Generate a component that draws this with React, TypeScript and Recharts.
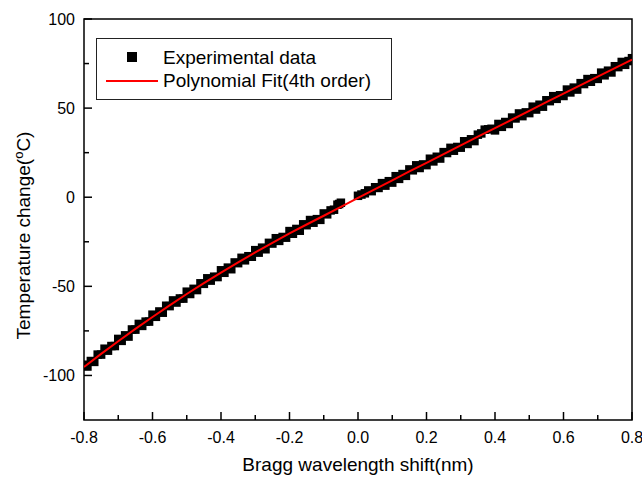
import React from 'react';
import { ComposedChart, XAxis, YAxis, Scatter, ReferenceArea, Legend } from 'recharts';

const FONT = '"Liberation Sans", Arial, Helvetica, sans-serif';

const SERIES_EXP = 'Experimental data';
const SERIES_FIT = 'Polynomial Fit(4th order)';
const X_LABEL = 'Bragg wavelength shift(nm)';
const Y_LABEL_MAIN = 'Temperature change(';
const Y_LABEL_SUP = 'o';
const Y_LABEL_END = 'C)';

const xMajorTicks = [-0.8, -0.6, -0.4, -0.2, 0, 0.2, 0.4, 0.6, 0.8];
const xMinorTicks = [-0.7, -0.5, -0.3, -0.1, 0.1, 0.3, 0.5, 0.7];
const yMajorTicks = [-100, -50, 0, 50, 100];
const yMinorTicks = [-75, -25, 25, 75];
const xDomain: [number, number] = [-0.8, 0.8];
const yDomain: [number, number] = [-125, 100];

// experimental data, below the gap near zero
const experimentalNegative: [number, number][] = [
  [-0.80, -94.0], [-0.79, -95.0], [-0.78, -91.9], [-0.77, -92.4], [-0.76, -88.3],
  [-0.75, -88.3], [-0.74, -85.0], [-0.73, -86.1], [-0.72, -83.5], [-0.71, -83.5],
  [-0.70, -79.5], [-0.69, -80.6], [-0.68, -77.5], [-0.67, -78.2], [-0.66, -74.2],
  [-0.65, -74.3], [-0.64, -71.1], [-0.63, -72.2], [-0.62, -69.8], [-0.61, -69.8],
  [-0.60, -65.9], [-0.59, -67.1], [-0.58, -64.1], [-0.57, -64.8], [-0.56, -60.9],
  [-0.55, -61.1], [-0.54, -57.9], [-0.53, -59.1], [-0.52, -56.8], [-0.51, -56.9],
  [-0.50, -53.0], [-0.49, -54.3], [-0.48, -51.4], [-0.47, -52.1], [-0.46, -48.3],
  [-0.45, -48.6], [-0.44, -45.5], [-0.43, -46.8], [-0.42, -44.6], [-0.41, -44.8],
  [-0.40, -41.0], [-0.39, -42.4], [-0.38, -39.5], [-0.37, -40.4], [-0.36, -36.6],
  [-0.35, -37.0], [-0.34, -34.0], [-0.33, -35.4], [-0.32, -33.1], [-0.31, -33.4],
  [-0.30, -29.7], [-0.29, -31.1], [-0.28, -28.3], [-0.27, -29.2], [-0.26, -25.6],
  [-0.25, -26.0], [-0.24, -23.0], [-0.23, -24.5], [-0.22, -22.3], [-0.21, -22.7],
  [-0.20, -19.0], [-0.19, -20.5], [-0.18, -17.8], [-0.17, -18.8], [-0.16, -15.2],
  [-0.15, -15.7], [-0.14, -12.8], [-0.13, -14.3], [-0.12, -12.3], [-0.11, -12.7],
  [-0.10, -9.1], [-0.09, -9.6], [-0.08, -7.4], [-0.07, -7.0], [-0.06, -4.2],
  [-0.055, -3.8], [-0.05, -3.1],
];

// experimental data, above the gap near zero
const experimentalPositive: [number, number][] = [
  [0.00, 0.8], [0.01, 1.5], [0.02, 2.2], [0.03, 3.8], [0.04, 3.4],
  [0.05, 5.6], [0.06, 5.2], [0.07, 7.9], [0.08, 6.5], [0.09, 9.0],
  [0.10, 8.2], [0.11, 11.8], [0.12, 10.3], [0.13, 13.0], [0.14, 12.0],
  [0.15, 15.6], [0.16, 15.1], [0.17, 17.9], [0.18, 16.4], [0.19, 18.4],
  [0.20, 18.0], [0.21, 21.6], [0.22, 20.1], [0.23, 22.7], [0.24, 21.7],
  [0.25, 25.3], [0.26, 24.8], [0.27, 27.7], [0.28, 26.1], [0.29, 28.2],
  [0.30, 27.8], [0.31, 31.4], [0.32, 29.9], [0.33, 32.5], [0.34, 31.5],
  [0.35, 35.1], [0.36, 35.8], [0.37, 37.9], [0.38, 38.1], [0.39, 38.4],
  [0.40, 37.5], [0.41, 41.1], [0.42, 39.5], [0.43, 42.2], [0.44, 41.1],
  [0.45, 44.7], [0.46, 44.2], [0.47, 47.0], [0.48, 45.5], [0.49, 47.6],
  [0.50, 47.2], [0.51, 50.8], [0.52, 49.2], [0.53, 51.9], [0.54, 50.8],
  [0.55, 54.4], [0.56, 53.9], [0.57, 56.7], [0.58, 55.2], [0.59, 57.2],
  [0.60, 56.8], [0.61, 60.4], [0.62, 58.8], [0.63, 61.5], [0.64, 60.4],
  [0.65, 64.0], [0.66, 63.5], [0.67, 66.3], [0.68, 64.8], [0.69, 66.8],
  [0.70, 66.4], [0.71, 69.9], [0.72, 68.4], [0.73, 71.0], [0.74, 70.0],
  [0.75, 73.5], [0.76, 73.0], [0.77, 75.9], [0.78, 74.3], [0.79, 76.4],
  [0.80, 78.0],
];

// 4th-order polynomial fit
const fitCurve: [number, number][] = [
  [-0.80, -95.3], [-0.75, -87.9], [-0.70, -80.8], [-0.65, -73.9], [-0.60, -67.2],
  [-0.55, -60.7], [-0.50, -54.3], [-0.45, -48.2], [-0.40, -42.3], [-0.35, -36.6],
  [-0.30, -31.0], [-0.25, -25.6], [-0.20, -20.3], [-0.15, -15.3], [-0.10, -10.4],
  [-0.05, -5.4], [0.00, -0.4], [0.05, 4.6], [0.10, 9.5], [0.15, 14.5],
  [0.20, 19.3], [0.25, 24.2], [0.30, 29.1], [0.35, 34.0], [0.40, 38.8],
  [0.45, 43.6], [0.50, 48.5], [0.55, 53.3], [0.60, 58.1], [0.65, 62.9],
  [0.70, 67.7], [0.75, 72.4], [0.80, 77.2],
];

const expData = [...experimentalNegative, ...experimentalPositive].map(([x, y]) => ({ x, y }));
const fitData = fitCurve.map(([x, y]) => ({ x, y }));
const xTicks = [...xMajorTicks, ...xMinorTicks].sort((a, b) => a - b);
const yTicks = [...yMajorTicks, ...yMinorTicks].sort((a, b) => a - b);

const SQ = 8.5;
const Square = (props: any) => {
  const { cx, cy } = props;
  if (cx == null || cy == null) return null;
  return <rect x={cx - SQ / 2} y={cy - SQ / 2} width={SQ} height={SQ} fill="#000" />;
};

const NoShape = () => <g />;

const YTick = (props: any) => {
  const { x, y, payload } = props;
  const v = payload.value;
  const major = yMajorTicks.includes(v);
  return (
    <g>
      <line x1={x} x2={x + (major ? 8 : 5)} y1={y} y2={y} stroke="#000" strokeWidth={1.5} />
      {major && (
        <text x={x - 9} y={y} dy={6} textAnchor="end" fontSize={16} fontFamily={FONT} fill="#000">
          {String(v)}
        </text>
      )}
    </g>
  );
};

const XTick = (props: any) => {
  const { x, y, payload } = props;
  const v = payload.value;
  const major = xMajorTicks.includes(v);
  return (
    <g>
      <line x1={x} x2={x} y1={y} y2={y - (major ? 8 : 5)} stroke="#000" strokeWidth={1.5} />
      {major && (
        <text x={x} y={y + 23} textAnchor="middle" fontSize={16} fontFamily={FONT} fill="#000">
          {v.toFixed(1)}
        </text>
      )}
    </g>
  );
};

const XLabel = (props: any) => {
  const vb = props.viewBox || {};
  return (
    <text x={vb.x + vb.width / 2} y={vb.y + 51} textAnchor="middle" fontSize={19} fontFamily={FONT} fill="#000">
      {X_LABEL}
    </text>
  );
};

const YLabel = (props: any) => {
  const vb = props.viewBox || {};
  const cx = vb.x + 30;
  const cy = vb.y + vb.height / 2 + 16;
  return (
    <text x={cx} y={cy} transform={`rotate(-90, ${cx}, ${cy})`} textAnchor="middle" fontSize={19} fontFamily={FONT} fill="#000">
      {Y_LABEL_MAIN}
      <tspan fontSize={13} dy={-7}>{Y_LABEL_SUP}</tspan>
      <tspan dy={7}>{Y_LABEL_END}</tspan>
    </text>
  );
};

const LegendBox = () => (
  <svg width={297} height={63} style={{ display: 'block' }}>
    <rect x={0.5} y={0.5} width={295} height={61} fill="#fff" stroke="#222" strokeWidth={1} />
    <rect x={31} y={14} width={10} height={10} fill="#000" />
    <text x={67} y={26} fontSize={19} fontFamily={FONT} fill="#000">{SERIES_EXP}</text>
    <line x1={10} x2={62} y1={43} y2={43} stroke="#ff0000" strokeWidth={2} />
    <text x={67} y={49} fontSize={19} fontFamily={FONT} fill="#000">{SERIES_FIT}</text>
  </svg>
);

export default function App() {
  return (
    <div style={{ position: 'absolute', left: 0, top: 0, width: 642, height: 477, background: '#fff' }}>
      <ComposedChart width={642} height={477} margin={{ top: 19, right: 10, bottom: 0, left: 0 }}>
        <XAxis
          type="number"
          dataKey="x"
          domain={xDomain}
          ticks={xTicks}
          interval={0}
          allowDataOverflow
          height={57}
          tickSize={0}
          tickMargin={0}
          tickLine={false}
          axisLine={false}
          tick={<XTick />}
          label={<XLabel />}
        />
        <YAxis
          type="number"
          dataKey="y"
          domain={yDomain}
          ticks={yTicks}
          interval={0}
          allowDataOverflow
          width={84}
          tickSize={0}
          tickMargin={0}
          tickLine={false}
          axisLine={false}
          tick={<YTick />}
          label={<YLabel />}
        />
        <ReferenceArea x1={xDomain[0]} x2={xDomain[1]} y1={yDomain[0]} y2={yDomain[1]} fill="none" stroke="#000" strokeWidth={1.5} fillOpacity={0} />
        <Scatter name={SERIES_EXP} data={expData} dataKey="y" shape={<Square />} isAnimationActive={false} />
        <Scatter
          name={SERIES_FIT}
          data={fitData}
          dataKey="y"
          shape={<NoShape />}
          line={{ stroke: '#ff0000', strokeWidth: 2 }}
          lineType="joint"
          isAnimationActive={false}
        />
        <Legend
          layout="vertical"
          verticalAlign="middle"
          align="center"
          wrapperStyle={{ left: 96, top: 38, width: 297, height: 63 }}
          content={() => <LegendBox />}
        />
      </ComposedChart>
    </div>
  );
}
